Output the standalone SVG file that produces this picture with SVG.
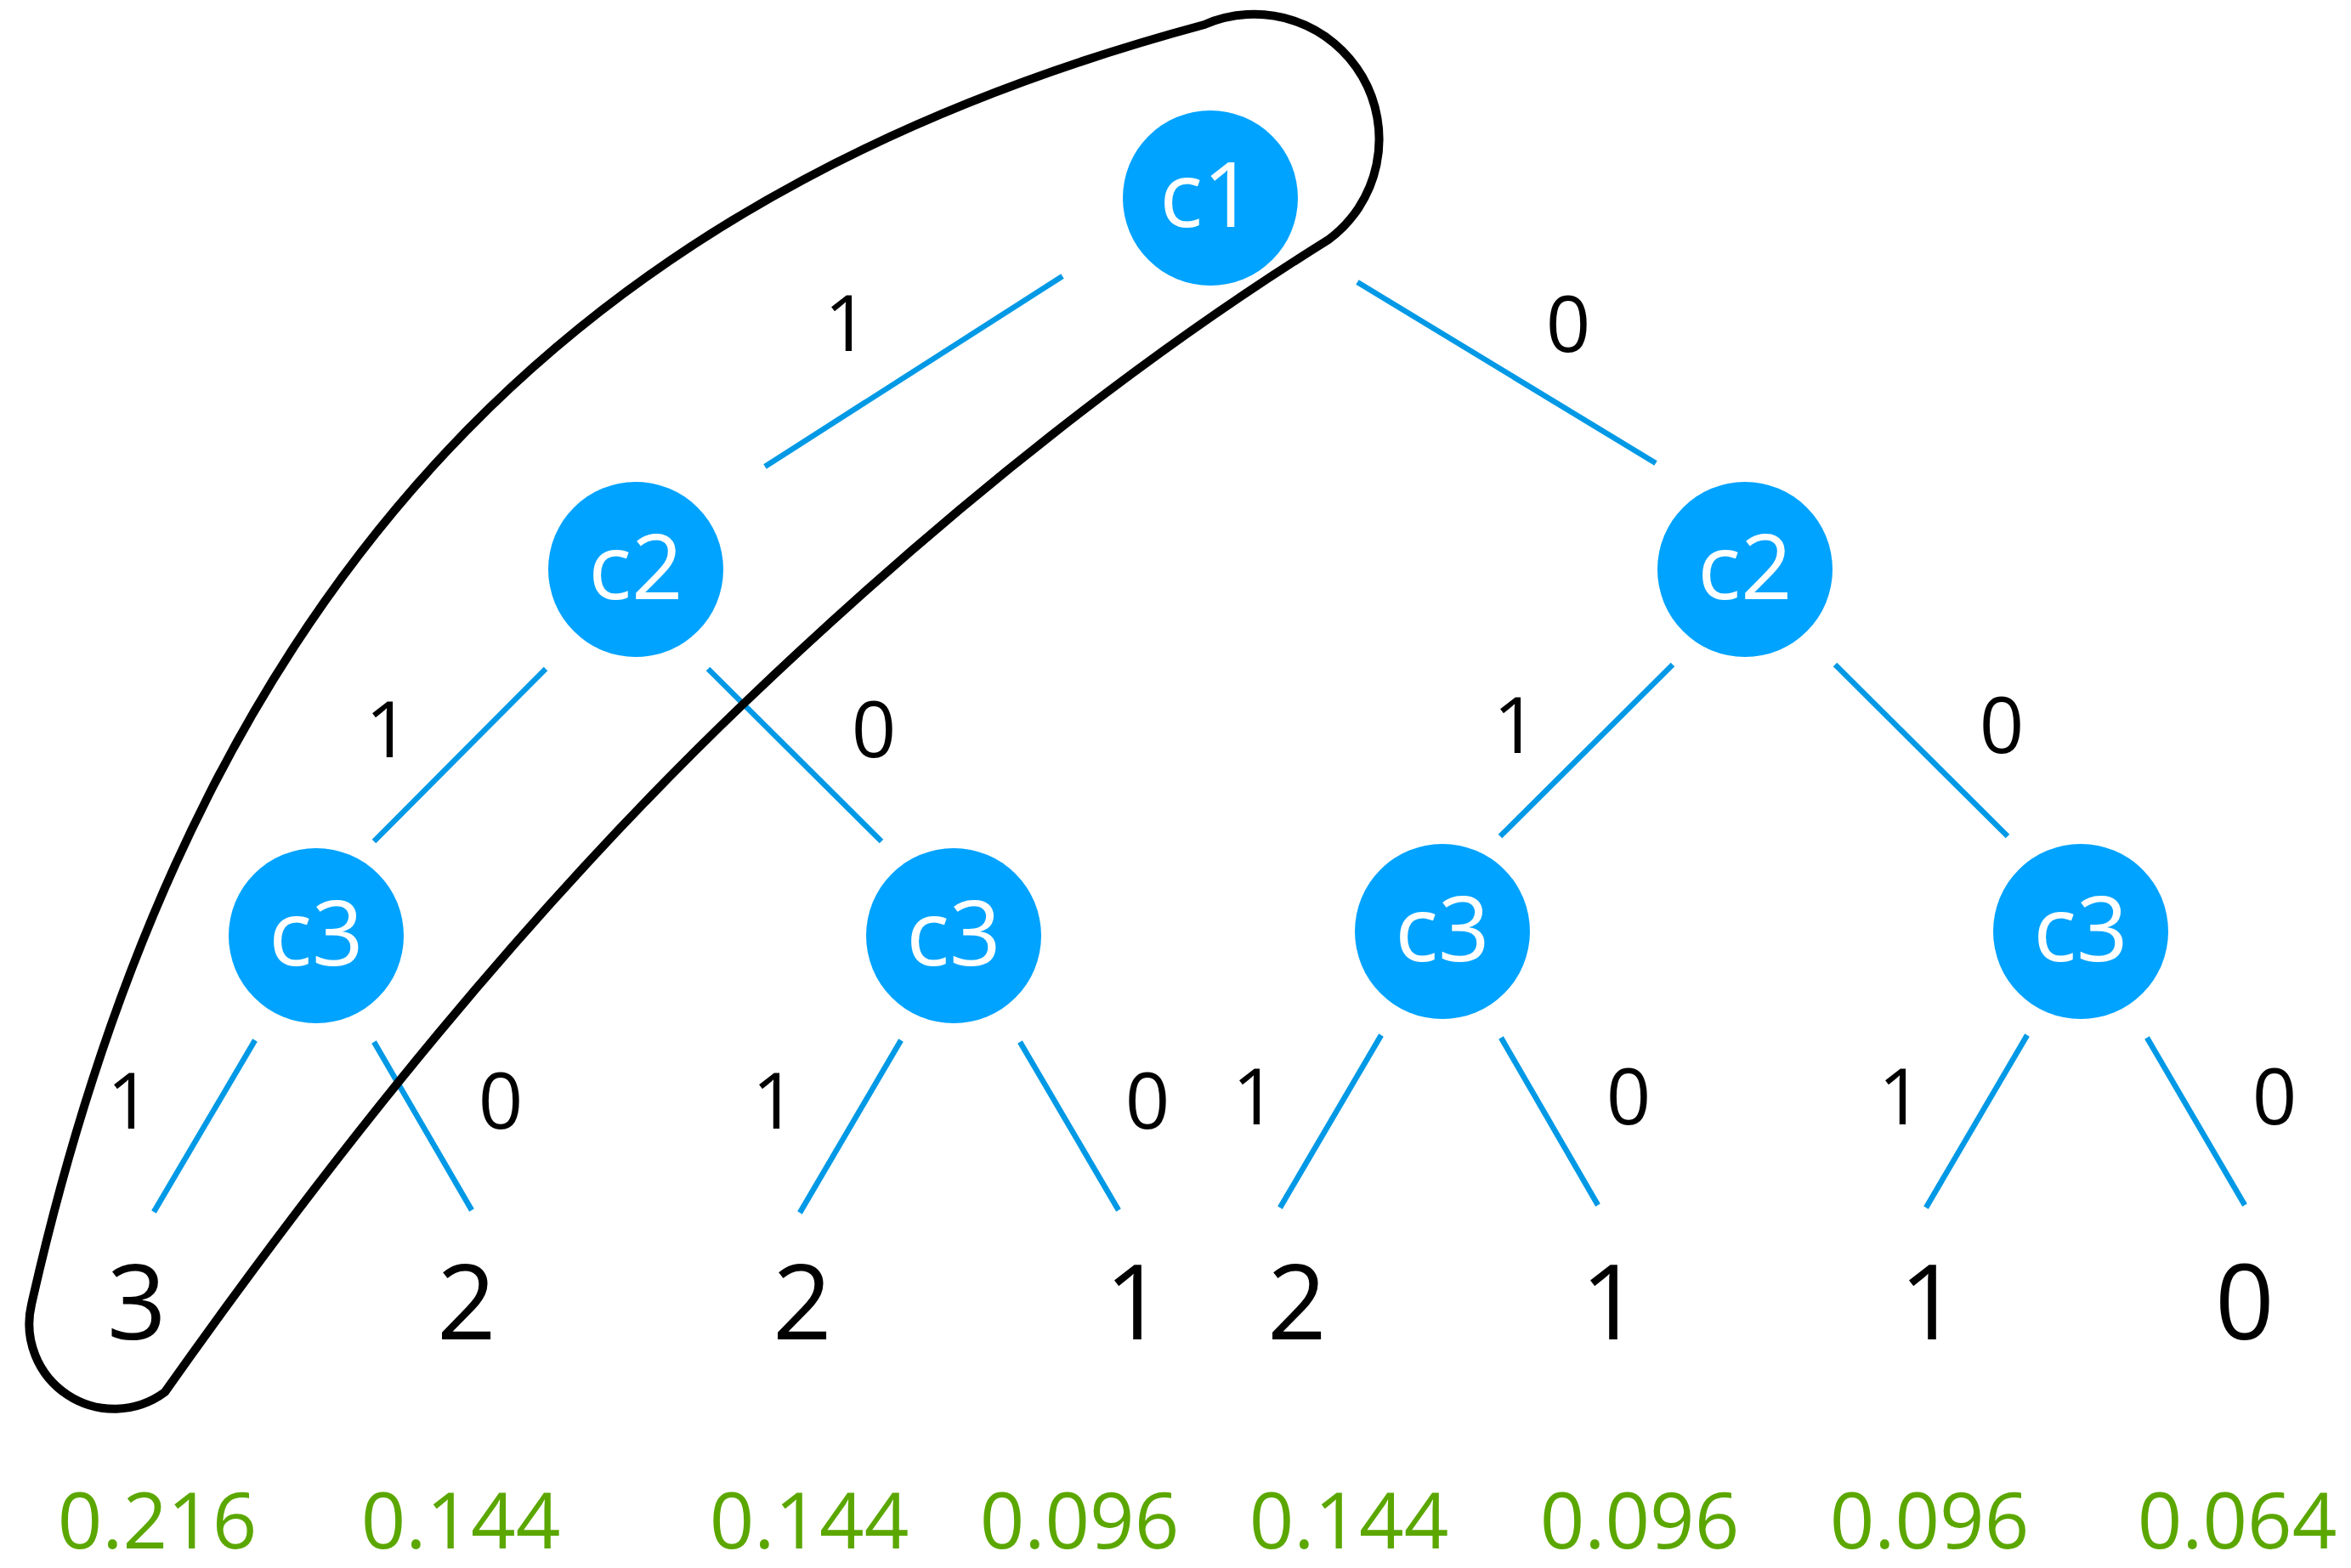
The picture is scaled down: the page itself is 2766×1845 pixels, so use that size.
<svg xmlns="http://www.w3.org/2000/svg" width="2766" height="1845" viewBox="0 0 2766 1845">
<style>
.node{fill:#00a3ff}
.nl{font-family:"Open Sans","Noto Sans","Liberation Sans",sans-serif;font-size:106px;fill:#ffffff;text-anchor:middle}
.edge{stroke:#0099e6;stroke-width:6.5;fill:none}
.el{font-family:"Open Sans","Noto Sans","Liberation Sans",sans-serif;font-size:92px;fill:#000000;text-anchor:middle}
.leaf{font-family:"Open Sans","Noto Sans","Liberation Sans",sans-serif;font-size:122px;fill:#000000;text-anchor:middle}
.prob{font-family:"Open Sans","Noto Sans","Liberation Sans",sans-serif;font-size:92px;fill:#5ba700;text-anchor:middle}
.hull{stroke:#000000;stroke-width:10;fill:none;stroke-linejoin:miter}
</style>
<rect width="2766" height="1845" fill="#ffffff"/>
<g id="connectors">
<line class="edge" x1="1250" y1="325" x2="900" y2="549"/>
<line class="edge" x1="1597" y1="332" x2="1948" y2="545"/>
<line class="edge" x1="642" y1="787" x2="440" y2="990"/>
<line class="edge" x1="833" y1="787" x2="1037" y2="990"/>
<line class="edge" x1="1968" y1="782" x2="1765" y2="984"/>
<line class="edge" x1="2159" y1="782" x2="2362" y2="984"/>
<line class="edge" x1="300" y1="1224" x2="181" y2="1426"/>
<line class="edge" x1="440" y1="1226" x2="555" y2="1424"/>
<line class="edge" x1="1060" y1="1224" x2="941" y2="1427"/>
<line class="edge" x1="1200" y1="1226" x2="1316" y2="1424"/>
<line class="edge" x1="1625" y1="1218" x2="1506" y2="1421"/>
<line class="edge" x1="1766" y1="1221" x2="1880" y2="1418"/>
<line class="edge" x1="2385" y1="1218" x2="2266" y2="1421"/>
<line class="edge" x1="2526" y1="1221" x2="2641" y2="1418"/>
</g>
<g id="edge-labels">
<text class="el" x="996" y="413">1</text>
<text class="el" x="1845" y="414">0</text>
<text class="el" x="456" y="891">1</text>
<text class="el" x="1028" y="891">0</text>
<text class="el" x="1783" y="886">1</text>
<text class="el" x="2355" y="886">0</text>
<text class="el" x="152" y="1328">1</text>
<text class="el" x="589" y="1328">0</text>
<text class="el" x="911" y="1328">1</text>
<text class="el" x="1350" y="1328">0</text>
<text class="el" x="1476" y="1323">1</text>
<text class="el" x="1916" y="1323">0</text>
<text class="el" x="2236" y="1323">1</text>
<text class="el" x="2676" y="1323">0</text>
</g>
<g id="n-c1"><circle class="node" cx="1424" cy="233" r="103"/><text class="nl" x="1420" y="267">c1</text></g>
<g id="n-c2a"><circle class="node" cx="748" cy="670" r="103"/><text class="nl" x="748" y="705">c2</text></g>
<g id="n-c2b"><circle class="node" cx="2053" cy="670" r="103"/><text class="nl" x="2053" y="705">c2</text></g>
<g id="n-c3a"><circle class="node" cx="372" cy="1101" r="103"/><text class="nl" x="372" y="1136">c3</text></g>
<g id="n-c3b"><circle class="node" cx="1122" cy="1101" r="103"/><text class="nl" x="1122" y="1136">c3</text></g>
<g id="n-c3c"><circle class="node" cx="1697" cy="1096" r="103"/><text class="nl" x="1697" y="1131">c3</text></g>
<g id="n-c3d"><circle class="node" cx="2448" cy="1096" r="103"/><text class="nl" x="2448" y="1131">c3</text></g>
<g id="leaves">
<text class="leaf" x="161" y="1576">3</text>
<text class="leaf" x="549" y="1576">2</text>
<text class="leaf" x="944" y="1576">2</text>
<text class="leaf" x="1335" y="1576">1</text>
<text class="leaf" x="1526" y="1576">2</text>
<text class="leaf" x="1895" y="1576">1</text>
<text class="leaf" x="2270" y="1576">1</text>
<text class="leaf" x="2641" y="1576">0</text>
</g>
<g id="probabilities">
<text class="prob" x="185" y="1822">0.216</text>
<text class="prob" x="542" y="1822">0.144</text>
<text class="prob" x="952" y="1822">0.144</text>
<text class="prob" x="1270" y="1822">0.096</text>
<text class="prob" x="1587" y="1822">0.144</text>
<text class="prob" x="1929" y="1822">0.096</text>
<text class="prob" x="2270" y="1822">0.096</text>
<text class="prob" x="2632" y="1822">0.064</text>
</g>
<g id="hull">
<path class="hull" d="M37,1535 C245,612 741,211 1417,29 A147,147 0 0 1 1563,282 C1316,436 1086,626 877,826 C622,1070 399,1348 194,1638 A100,100 0 0 1 37,1535 Z"/>
</g>
</svg>
